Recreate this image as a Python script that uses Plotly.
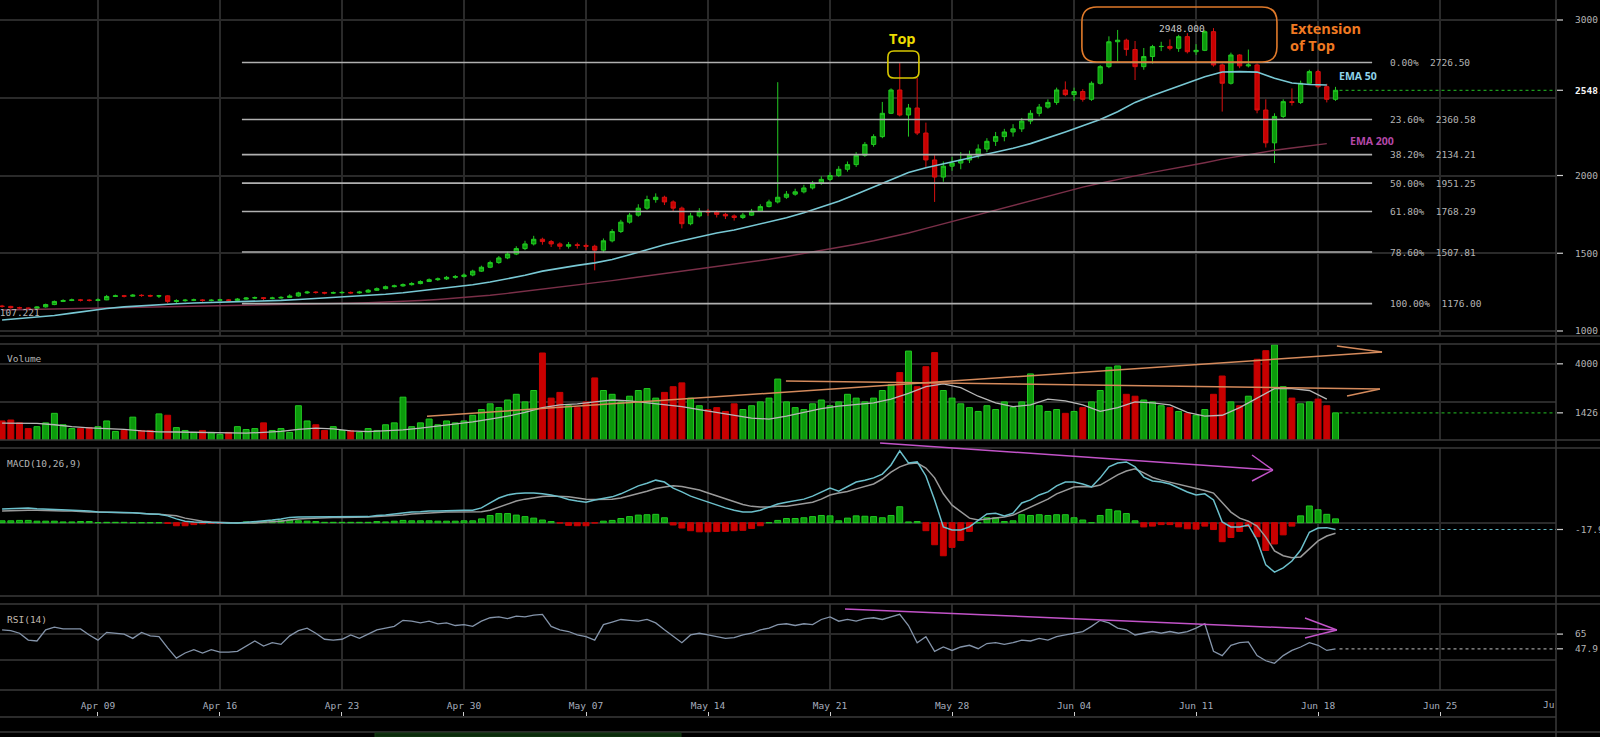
import plotly.graph_objects as go
import pandas as pd
import numpy as np

# ---------------- DATA (12h candles) ----------------
start_time = "2018-04-03 12:00"
ref_day = "2018-04-09"
n_candles = 154

open_first = 1160
close = [1158, 1150, 1148, 1145, 1155, 1170, 1190, 1196, 1200, 1198, 1197,
         1200, 1222, 1226, 1224, 1230, 1228, 1225, 1226, 1190, 1195,
         1198, 1200, 1196, 1198, 1200, 1197, 1205, 1212, 1214, 1210,
         1212, 1216, 1225, 1245, 1250, 1248, 1244, 1246, 1248, 1245,
         1250, 1262, 1272, 1285, 1290, 1298, 1305, 1318, 1330, 1335,
         1345, 1350, 1360, 1385, 1410, 1440, 1470, 1495, 1530, 1560,
         1590, 1575, 1560, 1545, 1555, 1550, 1545, 1520, 1580, 1640,
         1700, 1745, 1790, 1845, 1860, 1830, 1790, 1690, 1740, 1770,
         1765, 1750, 1740, 1730, 1745, 1770, 1800, 1830, 1860, 1880,
         1895, 1920, 1950, 1975, 2000, 2040, 2070, 2130, 2200, 2250,
         2400, 2550, 2389, 2434, 2273, 2100, 1990, 2060, 2080, 2100,
         2130, 2170, 2220, 2250, 2280, 2300, 2350, 2400, 2440, 2470,
         2550, 2520, 2540, 2490, 2593, 2700, 2860, 2870, 2810, 2700,
         2765, 2829, 2830, 2818, 2893, 2796, 2805, 2925, 2711, 2593,
         2775, 2705, 2711, 2421, 2210, 2380, 2475, 2470, 2593, 2668,
         2571, 2490, 2548]
high = [1168, 1162, 1156, 1152, 1160, 1176, 1196, 1204, 1208, 1206, 1204,
        1210, 1232, 1234, 1232, 1238, 1236, 1234, 1232, 1230, 1204,
        1206, 1208, 1205, 1205, 1207, 1205, 1212, 1218, 1222, 1218,
        1220, 1224, 1236, 1252, 1258, 1256, 1252, 1254, 1256, 1254,
        1258, 1270, 1280, 1292, 1298, 1306, 1314, 1326, 1338, 1344,
        1354, 1360, 1370, 1394, 1420, 1452, 1482, 1510, 1545, 1580,
        1612, 1600, 1585, 1570, 1572, 1568, 1562, 1555, 1595, 1655,
        1715, 1760, 1815, 1870, 1885, 1870, 1840, 1800, 1760, 1790,
        1785, 1775, 1760, 1750, 1760, 1785, 1815, 1845, 2600, 1900,
        1915, 1940, 1965, 1995, 2020, 2060, 2090, 2150, 2215, 2265,
        2473, 2560, 2723, 2460, 2627, 2340, 2130, 2090, 2120, 2150,
        2160, 2200, 2240, 2280, 2300, 2330, 2370, 2420, 2460, 2490,
        2565, 2605, 2565, 2555, 2605, 2710, 2895, 2936, 2880, 2865,
        2820, 2840, 2860, 2875, 2905, 2915, 2845, 2935, 2948, 2720,
        2790, 2780, 2810, 2720, 2490, 2400, 2490, 2560, 2610, 2680,
        2680, 2590, 2570]
low = [1150, 1144, 1140, 1138, 1141, 1150, 1166, 1186, 1192, 1190, 1190,
       1192, 1198, 1218, 1216, 1220, 1220, 1218, 1212, 1178, 1180,
       1188, 1192, 1188, 1190, 1193, 1190, 1194, 1200, 1206, 1196,
       1204, 1208, 1212, 1220, 1238, 1240, 1236, 1238, 1240, 1238,
       1240, 1246, 1258, 1268, 1280, 1284, 1292, 1300, 1316, 1322,
       1328, 1336, 1344, 1352, 1380, 1404, 1432, 1462, 1488, 1520,
       1550, 1555, 1540, 1525, 1530, 1530, 1520, 1390, 1505, 1570,
       1630, 1690, 1735, 1780, 1825, 1810, 1770, 1660, 1680, 1730,
       1740, 1730, 1720, 1710, 1720, 1740, 1765, 1795, 1820, 1850,
       1870, 1885, 1910, 1940, 1965, 1990, 2025, 2055, 2120, 2185,
       2240, 2395, 2380, 2250, 2260, 2050, 1830, 1960, 2030, 2040,
       2080, 2110, 2150, 2190, 2220, 2250, 2280, 2330, 2380, 2430,
       2455, 2510, 2480, 2475, 2480, 2585, 2690, 2732, 2770, 2614,
       2680, 2720, 2800, 2805, 2795, 2785, 2775, 2800, 2700, 2411,
       2585, 2690, 2695, 2400, 2180, 2080, 2370, 2450, 2460, 2585,
       2560, 2470, 2480]
volume = [1000, 1050, 900, 600, 700, 900, 1400, 800, 600, 600, 650,
          700, 1000, 450, 500, 1200, 500, 500, 1370, 1300, 650,
          500, 400, 500, 400, 300, 400, 700, 550, 600, 900,
          500, 600, 400, 1800, 1000, 800, 500, 700, 500, 500,
          400, 600, 500, 800, 900, 2250, 700, 900, 1100, 800,
          1000, 900, 1000, 1300, 1600, 1900, 1700, 2100, 2400, 2000,
          2600, 4570, 2200, 2500, 1800, 1700, 2000, 3260, 2600, 2400,
          2000, 2300, 2600, 2700, 2200, 2500, 2800, 3000, 2200, 1800,
          1600, 1700, 1500, 1900, 1600, 1800, 2000, 2200, 3200, 2000,
          1700, 1600, 1900, 2100, 1800, 2000, 2400, 2200, 2000, 2200,
          2600, 2900, 3540, 4670, 2800, 3850, 4590, 2600, 2200, 1900,
          1700, 1500, 1800, 1600, 2000, 1700, 2000, 3470, 1800, 1500,
          1600, 1400, 1500, 1700, 2000, 2600, 3820, 3890, 2400, 2300,
          2100, 2000, 1800, 1700, 1500, 1400, 1300, 1600, 2400, 3360,
          2000, 1800, 2300, 4240, 4690, 5000, 2800, 2200, 1900, 2000,
          2150, 1800, 1426]
# daily-sampled lines (every second candle)
volume_ma = [890, 880, 870, 800, 700, 640, 610, 560, 480, 430,
             420, 400, 380, 360, 360, 400, 450, 560, 620, 580,
             480, 440, 470, 530, 620, 720, 820, 950, 1100, 1250,
             1450, 1700, 1850, 1900, 2000, 2100, 2050, 1950, 1850, 1750,
             1600, 1450, 1300, 1150, 1100, 1250, 1450, 1650, 1780, 1850,
             1950, 2150, 2450, 2800, 2950, 2750, 2300, 1950, 1750, 1850,
             2150, 2050, 1850, 1500, 1700, 2000, 1950, 1850, 1450, 1250,
             1300, 1700, 2200, 2700, 2700, 2600, 2150]
ema50 = [1071, 1080, 1088, 1100, 1115, 1130, 1145, 1155, 1163, 1170,
         1175, 1180, 1183, 1186, 1190, 1193, 1197, 1203, 1210, 1215,
         1220, 1227, 1236, 1246, 1258, 1270, 1283, 1297, 1315, 1335,
         1358, 1385, 1405, 1422, 1438, 1460, 1490, 1525, 1555, 1580,
         1605, 1630, 1650, 1675, 1700, 1728, 1760, 1795, 1835, 1880,
         1925, 1975, 2020, 2050, 2075, 2100, 2125, 2150, 2175, 2205,
         2240, 2280, 2320, 2360, 2410, 2470, 2515, 2555, 2595, 2635,
         2666, 2668, 2665, 2625, 2595, 2585, 2582]
ema200 = [1135, 1137, 1139, 1141, 1143, 1145, 1147, 1149, 1151, 1153,
          1155, 1157, 1159, 1161, 1163, 1165, 1167, 1170, 1173, 1176,
          1179, 1182, 1186, 1190, 1196, 1203, 1211, 1220, 1230, 1242,
          1255, 1268, 1282, 1296, 1310, 1324, 1339, 1354, 1369, 1384,
          1398, 1413, 1428, 1444, 1461, 1479, 1498, 1517, 1537, 1558,
          1580, 1603, 1630, 1660, 1690, 1718, 1746, 1775, 1805, 1835,
          1865, 1895, 1925, 1950, 1975, 1998, 2020, 2040, 2060, 2082,
          2105, 2125, 2145, 2162, 2177, 2192, 2205]
macd = [36, 37, 39, 39, 37, 36, 35, 33, 33, 32, 31,
        28, 28, 28, 27, 26, 24, 23, 22, 18, 10,
        4, 2, 1, 0, -1, -1, -1, 1, 2, 4,
        7, 10, 14, 15, 15, 15, 15, 15, 15, 15,
        15, 16, 19, 20, 23, 26, 28, 29, 31, 31,
        32, 32, 33, 33, 39, 52, 65, 73, 77, 78,
        78, 76, 73, 68, 61, 57, 54, 60, 65, 68,
        76, 86, 97, 104, 112, 107, 91, 81, 70, 62,
        54, 47, 39, 33, 28, 28, 33, 41, 49, 54,
        58, 62, 70, 81, 91, 83, 94, 107, 112, 118,
        128, 152, 189, 157, 160, 123, 60, -11, -19, -19,
        -11, 7, 23, 25, 18, 25, 52, 60, 73, 81,
        97, 107, 107, 102, 94, 118, 147, 157, 160, 147,
        120, 110, 107, 102, 91, 81, 73, 76, 60, 2,
        -11, -11, -6, -46, -111, -130, -119, -101, -72, -25,
        -14, -13, -17.9]
signal = [31, 32, 33, 33, 33, 32, 31, 31, 31, 29, 28,
          28, 27, 27, 26, 26, 24, 23, 22, 20, 18,
          12, 7, 4, 2, 1, -1, -1, -1, -1, 1,
          2, 4, 7, 10, 11, 12, 14, 14, 14, 14,
          14, 15, 16, 18, 19, 20, 23, 24, 26, 27,
          28, 28, 28, 28, 29, 33, 41, 49, 57, 62,
          66, 69, 70, 69, 68, 65, 62, 61, 61, 62,
          65, 70, 77, 83, 90, 94, 97, 95, 91, 86,
          78, 70, 62, 54, 48, 43, 41, 41, 43, 43,
          47, 49, 54, 62, 73, 78, 82, 89, 95, 102,
          115, 133, 147, 155, 157, 144, 118, 76, 46, 28,
          12, 7, 10, 12, 15, 20, 31, 41, 52, 62,
          76, 86, 94, 95, 94, 99, 112, 126, 136, 142,
          131, 119, 112, 107, 102, 97, 90, 85, 78, 52,
          28, 12, 4, -9, -38, -74, -87, -92, -90, -69,
          -48, -35, -28]
rsi = [70, 69, 66, 58, 57, 70, 73, 71, 71, 71, 64,
       58, 67, 66, 65, 60, 67, 63, 62, 49, 37,
       43, 47, 43, 47, 44, 44, 45, 51, 57, 51,
       55, 53, 63, 69, 72, 66, 59, 58, 59, 64,
       60, 65, 70, 72, 74, 81, 80, 78, 80, 77,
       78, 75, 76, 74, 80, 84, 85, 83, 86, 85,
       87, 88, 74, 70, 68, 64, 62, 58, 76, 79,
       82, 81, 80, 82, 78, 70, 62, 55, 64, 66,
       64, 62, 60, 61, 64, 66, 70, 72, 76, 77,
       75, 77, 76, 82, 85, 80, 82, 80, 83, 84,
       82, 85, 88, 75, 55, 62, 45, 50, 46, 50,
       52, 48, 54, 55, 53, 55, 58, 57, 60, 58,
       62, 64, 66, 68, 74, 81, 78, 72, 70, 64,
       66, 68, 66, 68, 66, 68, 72, 77, 45, 40,
       52, 55, 56, 40, 34, 31, 40, 46, 50, 55,
       52, 46, 47.9]

fib_levels = ["0.00%", "23.60%", "38.20%", "50.00%", "61.80%", "78.60%", "100.00%"]
fib_values = [2726.50, 2360.58, 2134.21, 1951.25, 1768.29, 1507.81, 1176.00]
tick_labels = ["Apr 09", "Apr 16", "Apr 23", "Apr 30", "May 07", "May 14",
               "May 21", "May 28", "Jun 04", "Jun 11", "Jun 18", "Jun 25"]
top_value = 2948.0
last_price_label = "2548.000"
last_volume_label = "1426.000"
last_macd_label = "-17.925"
last_rsi_label = "47.9"

# ---------------- derived ----------------
times = pd.date_range(start_time, periods=n_candles, freq="12h")
xd = ((times - pd.Timestamp(ref_day)) / pd.Timedelta("1D")).to_numpy()
opens = [open_first] + close[:-1]
xd2 = xd[::2]
hist = np.array(macd) - np.array(signal)
tick_days = [7 * k for k in range(len(tick_labels))]

W, H = 1600, 737
PW = 1556  # plot width in px
XR = [-5.62, 83.65]
def ypx(p):
    return 1 - p / H
PANES = {
    "main": dict(dom=[ypx(336), 1.0], rng=[967.8, 3128.6]),
    "vol": dict(dom=[ypx(440), ypx(344)], rng=[0, 5042]),
    "macd": dict(dom=[ypx(596), ypx(448)], rng=[-192.9, 196.6]),
    "rsi": dict(dom=[ypx(690), ypx(604)], rng=[0, 100]),
}
def PX(day):
    return (day - XR[0]) / (XR[1] - XR[0])
def PY(val, pane):
    d, r = PANES[pane]["dom"], PANES[pane]["rng"]
    return d[0] + (val - r[0]) / (r[1] - r[0]) * (d[1] - d[0])

GRID = "#2a2a2a"
BORDER = "#3a3a3a"
MONO = "DejaVu Sans Mono"
FS = 9.5
TXT = "#b4b4b4"
GREEN_F, GREEN_L = "#0c9a0c", "#22c922"
RED_F, RED_L = "#c80000", "#d81010"

fig = go.Figure()

fig.add_trace(go.Candlestick(
    x=xd, open=opens, high=high, low=low, close=close,
    xaxis="x", yaxis="y", whiskerwidth=0,
    increasing=dict(line=dict(color=GREEN_L, width=1), fillcolor=GREEN_F),
    decreasing=dict(line=dict(color=RED_L, width=1), fillcolor=RED_F),
    hoverinfo="skip", showlegend=False))
fig.add_trace(go.Scatter(x=xd2, y=ema200, mode="lines", line=dict(color="#7a2f48", width=1.4),
                         xaxis="x", yaxis="y", hoverinfo="skip", showlegend=False))
fig.add_trace(go.Scatter(x=xd2, y=ema50, mode="lines", line=dict(color="#78c8d4", width=1.6),
                         xaxis="x", yaxis="y", hoverinfo="skip", showlegend=False))

up = [c >= o for c, o in zip(close, opens)]
fig.add_trace(go.Bar(x=xd, y=volume, width=0.34, xaxis="x2", yaxis="y2",
                     marker=dict(color=[GREEN_F if u else RED_F for u in up],
                                 line=dict(color=[GREEN_L if u else RED_F for u in up], width=1)),
                     hoverinfo="skip", showlegend=False))
fig.add_trace(go.Scatter(x=xd2, y=volume_ma, mode="lines", line=dict(color="#b8b8b8", width=1.3),
                         xaxis="x2", yaxis="y2", hoverinfo="skip", showlegend=False))

fig.add_trace(go.Bar(x=xd, y=hist, width=0.34, xaxis="x3", yaxis="y3",
                     marker=dict(color=[GREEN_F if h >= 0 else RED_F for h in hist],
                                 line=dict(color=[GREEN_L if h >= 0 else RED_F for h in hist], width=1)),
                     hoverinfo="skip", showlegend=False))
fig.add_trace(go.Scatter(x=xd, y=signal, mode="lines", line=dict(color="#9a9a9a", width=1.5),
                         xaxis="x3", yaxis="y3", hoverinfo="skip", showlegend=False))
fig.add_trace(go.Scatter(x=xd, y=macd, mode="lines", line=dict(color="#6cc0cc", width=1.5),
                         xaxis="x3", yaxis="y3", hoverinfo="skip", showlegend=False))

fig.add_trace(go.Scatter(x=xd, y=rsi, mode="lines", line=dict(color="#8494aa", width=1.3),
                         xaxis="x4", yaxis="y4", hoverinfo="skip", showlegend=False))
# dummy trace for bottom tick-mark axis
fig.add_trace(go.Scatter(x=[xd[0]], y=[0], mode="markers", marker=dict(opacity=0),
                         xaxis="x5", yaxis="y5", hoverinfo="skip", showlegend=False))

def xax(anchor, labels=False, **kw):
    d = dict(domain=[0, 1], range=XR, anchor=anchor, showgrid=True, gridcolor=GRID, gridwidth=1.5,
             tickmode="array", tickvals=tick_days, ticktext=tick_labels, zeroline=False,
             showticklabels=labels, ticks="", showline=False, fixedrange=True)
    d.update(kw)
    return d
def yax(pane, anchor, tv, tt):
    return dict(domain=PANES[pane]["dom"], range=PANES[pane]["rng"], anchor=anchor, side="right",
                showgrid=True, gridcolor=GRID, gridwidth=1.5, zeroline=False, tickmode="array",
                tickvals=tv, ticktext=tt, ticks="", ticklabelstandoff=18,
                tickfont=dict(family=MONO, size=FS, color=TXT), showline=False, fixedrange=True)

layout = dict(
    width=W, height=H, margin=dict(l=0, r=W - PW, t=0, b=0),
    paper_bgcolor="#000000", plot_bgcolor="#000000", hovermode=False, showlegend=False,
    xaxis=xax("y", rangeslider=dict(visible=False)),
    xaxis2=xax("y2"),
    xaxis3=xax("y3"),
    xaxis4=xax("y4", labels=True, ticklabelstandoff=8,
               tickfont=dict(family=MONO, size=FS, color="#a6aebd")),
    xaxis5=dict(domain=[0, 1], range=XR, anchor="y5", side="top", tickmode="array", tickvals=tick_days,
                ticks="outside", ticklen=4, tickcolor="#cfcfcf", tickwidth=1, showticklabels=False,
                showgrid=False, zeroline=False, showline=False, fixedrange=True),
    yaxis=yax("main", "x", [1000, 1500, 2000, 2500, 3000], ["1000", "1500", "2000", "", "3000"]),
    yaxis2=yax("vol", "x2", [2000, 4000], ["", "4000"]),
    yaxis3=yax("macd", "x3", [0], [""]),
    yaxis4=yax("rsi", "x4", [35, 65], ["", "65"]),
    yaxis5=dict(domain=[0, ypx(717)], range=[0, 1], anchor="x5", visible=False, fixedrange=True),
)
fig.update_layout(**layout)

shapes = []
annots = []
def hline_px(p, color=BORDER, x1=W / PW, width=1.5):
    shapes.append(dict(type="line", xref="paper", yref="paper", x0=0, x1=x1, y0=ypx(p), y1=ypx(p),
                       line=dict(color=color, width=width), layer="above"))
for p in [336, 344, 440, 448, 596, 604]:
    hline_px(p)
for p in [690, 717]:
    hline_px(p, x1=1.0)
hline_px(732, x1=W / PW)
shapes.append(dict(type="line", xref="paper", yref="paper", x0=1, x1=1, y0=0, y1=1,
                   line=dict(color=BORDER, width=1.5), layer="above"))
# bottom navigator strip
shapes.append(dict(type="rect", xref="paper", yref="paper", x0=375 / PW, x1=681 / PW, y0=0, y1=ypx(733),
                   fillcolor="#0b2b0b", line=dict(color="#153d15", width=1), layer="above"))

# tick dashes on the right axis
def dash(val, pane, color="#d0d0d0"):
    y = PY(val, pane)
    shapes.append(dict(type="line", xref="paper", yref="paper", x0=1 + 1 / PW, x1=1 + 7 / PW, y0=y, y1=y,
                       line=dict(color=color, width=1.2)))
for v in [1000, 1500, 2000, 3000, close[-1]]:
    dash(v, "main")
for v in [4000, volume[-1]]:
    dash(v, "vol")
dash(macd[-1], "macd")
for v in [65, rsi[-1]]:
    dash(v, "rsi")

# last-value dotted lines
def lastline(val, pane, color):
    y = PY(val, pane)
    shapes.append(dict(type="line", xref="paper", yref="paper", x0=PX(xd[-1]) + 4 / PW, x1=1, y0=y, y1=y,
                       line=dict(color=color, width=1.2, dash="dot")))
lastline(close[-1], "main", "#1d9a1d")
lastline(volume[-1], "vol", "#1d9a1d")
lastline(macd[-1], "macd", "#5fb6c2")
lastline(rsi[-1], "rsi", "#9a9a9a")

# Fibonacci retracement
fib_x0, fib_x1, fib_lbl = 8.26, 73.1, 74.0
for lvl, val in zip(fib_levels, fib_values):
    shapes.append(dict(type="line", xref="paper", yref="paper", x0=PX(fib_x0), x1=PX(fib_x1),
                       y0=PY(val, "main"), y1=PY(val, "main"), line=dict(color="#b0b0b0", width=1.6)))
    annots.append(dict(xref="paper", yref="paper", x=PX(fib_lbl), y=PY(val, "main"), xanchor="left",
                       yanchor="middle", text=f"{lvl}  {val:.2f}", showarrow=False,
                       font=dict(family=MONO, size=FS, color=TXT)))

def rrect(d0, d1, v0, v1, pane, rpx, color, width):
    x0, x1 = PX(d0), PX(d1)
    y0, y1 = PY(v0, pane), PY(v1, pane)
    rx, ry = rpx / PW, rpx / H
    path = (f"M {x0+rx},{y0} L {x1-rx},{y0} Q {x1},{y0} {x1},{y0+ry} L {x1},{y1-ry} "
            f"Q {x1},{y1} {x1-rx},{y1} L {x0+rx},{y1} Q {x0},{y1} {x0},{y1-ry} "
            f"L {x0},{y0+ry} Q {x0},{y0} {x0+rx},{y0} Z")
    shapes.append(dict(type="path", xref="paper", yref="paper", path=path,
                       line=dict(color=color, width=width)))
rrect(45.32, 47.10, 2627, 2801, "main", 6, "#d8c800", 1.6)
rrect(56.45, 67.64, 2730, 3084, "main", 15, "#e07a2a", 1.6)

def seg(d0, v0, d1, v1, pane, color, width=1.5):
    shapes.append(dict(type="line", xref="paper", yref="paper", x0=PX(d0), y0=PY(v0, pane),
                       x1=PX(d1), y1=PY(v1, pane), line=dict(color=color, width=width)))
ORANGE = "#d48a5c"
seg(18.88, 1245, 73.67, 4622, "vol", ORANGE)
seg(71.08, 4937, 73.67, 4622, "vol", ORANGE)
seg(39.47, 3099, 73.55, 2679, "vol", ORANGE)
seg(71.66, 2311, 73.55, 2679, "vol", ORANGE)
PURPLE = "#c253c8"
seg(44.87, 209.7, 67.41, 138.7, "macd", PURPLE)
seg(66.21, 178.2, 67.41, 138.7, "macd", PURPLE)
seg(66.21, 109.7, 67.41, 138.7, "macd", PURPLE)
seg(42.86, 94.2, 71.08, 69.8, "rsi", PURPLE)
seg(69.25, 83.7, 71.08, 69.8, "rsi", PURPLE)
seg(69.25, 60.5, 71.08, 69.8, "rsi", PURPLE)

def txt(xp, yp, text, size, color, family=MONO, xanchor="left", bold=False):
    annots.append(dict(xref="paper", yref="paper", x=xp, y=yp, text=(f"<b>{text}</b>" if bold else text),
                       showarrow=False, xanchor=xanchor, yanchor="middle",
                       font=dict(family=family, size=size, color=color)))
txt(PX(46.13), PY(2884, "main"), "Top", 14.5, "#ecdc00", family="Open Sans", xanchor="center", bold=True)
txt(1288 / PW, ypx(28), "Extension", 14.5, "#f07a22", family="Open Sans", bold=True)
txt(1288 / PW, ypx(45), "of Top", 14.5, "#f07a22", family="Open Sans", bold=True)
txt(PX(62.2), ypx(28), f"{top_value:.3f}", FS, "#c8c8c8", xanchor="center")
txt(PX(71.08), PY(2641, "main"), "EMA 50", 10.5, "#8fd4ea", family="Open Sans", bold=True)
txt(PX(71.72), PY(2222, "main"), "EMA 200", 10.5, "#b448a8", family="Open Sans", bold=True)
txt(-8 / PW, ypx(313), "1107.221", FS, TXT, xanchor="left")
txt(5 / PW, ypx(358), "Volume", FS, TXT)
txt(5 / PW, ypx(463), "MACD(10,26,9)", FS, TXT)
txt(5 / PW, ypx(619), "RSI(14)", FS, "#c0b8ae")
txt(1 + 17 / PW, PY(close[-1], "main"), last_price_label, FS, "#f4f4f4", bold=True)
txt(1 + 17 / PW, PY(volume[-1], "vol"), last_volume_label, FS, TXT)
txt(1 + 17 / PW, PY(macd[-1], "macd"), last_macd_label, FS, TXT)
txt(1 + 17 / PW, PY(rsi[-1], "rsi"), last_rsi_label, FS, TXT)
txt(1.0, ypx(704), "Ju", FS, "#a6aebd", xanchor="right")

fig.update_layout(shapes=shapes, annotations=annots)
fig.write_html("out.html", config={"displayModeBar": False})
